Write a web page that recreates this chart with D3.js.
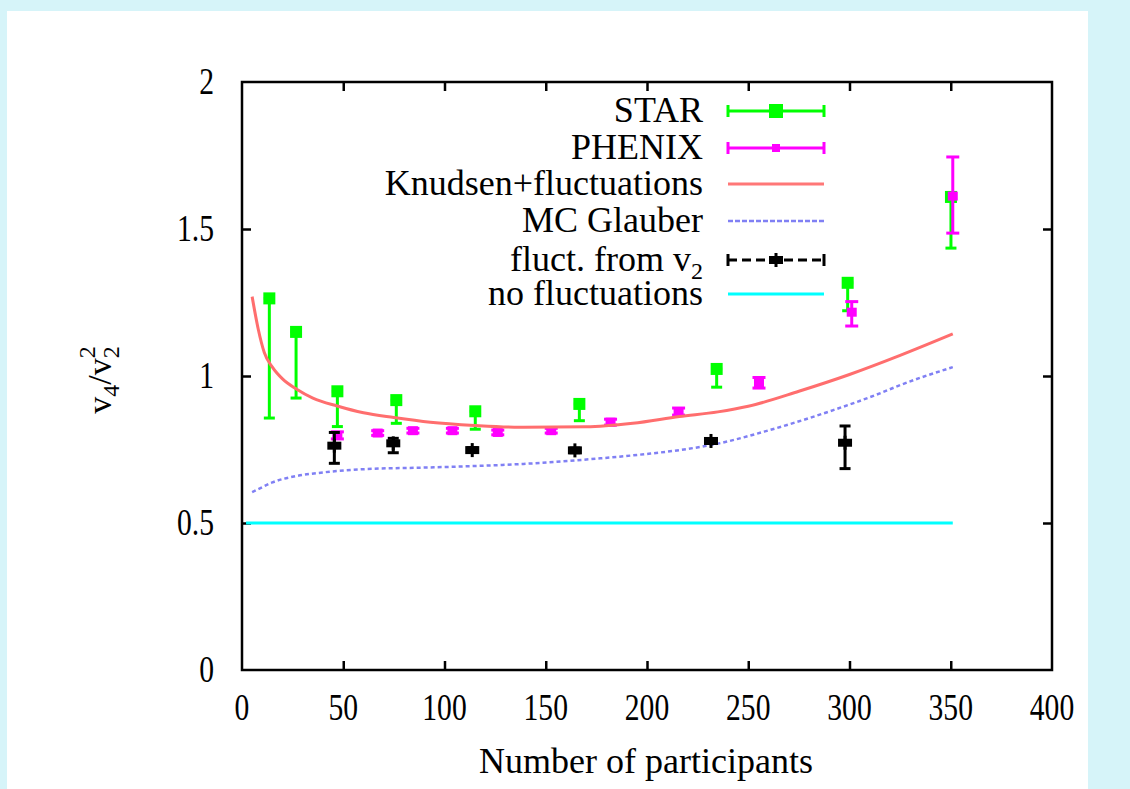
<!DOCTYPE html>
<html>
<head>
<meta charset="utf-8">
<script src="https://cdn.jsdelivr.net/npm/d3@7"></script>
<style>
  html, body { margin: 0; padding: 0; background: #d6f4f9; }
  svg { display: block; }
  text { font-family: "Liberation Serif", "Times New Roman", serif; fill: #000; }
</style>
</head>
<body>
<svg id="chart" width="1130" height="789"></svg>
<script>
// axis ticks
const xTicks = [0, 50, 100, 150, 200, 250, 300, 350, 400];
const yTicks = [0, 0.5, 1, 1.5, 2];
const yTickLabels = ["0", "0.5", "1", "1.5", "2"];

// STAR
const starX  = [13.5, 26.7, 47.1, 76.2, 115.2, 166.6, 234.4, 299.1, 350.1];
const starY  = [1.264, 1.150, 0.948, 0.918, 0.880, 0.905, 1.024, 1.317, 1.609];
const starLo = [0.857, 0.925, 0.828, 0.839, 0.819, 0.848, 0.962, 1.222, 1.435];

// PHENIX
const phenixX  = [47.1, 67.0, 84.4, 103.9, 126.3, 152.7, 182.0, 215.6, 255.3, 301.1, 351.0];
const phenixY  = [0.798, 0.806, 0.814, 0.814, 0.808, 0.814, 0.843, 0.879, 0.977, 1.217, 1.612];
const phenixLo = [0.786, 0.798, 0.806, 0.806, 0.800, 0.806, 0.833, 0.867, 0.959, 1.170, 1.486];
const phenixHi = [0.810, 0.814, 0.822, 0.822, 0.816, 0.822, 0.853, 0.891, 0.995, 1.253, 1.745];

// Knudsen + fluctuations
const knudsenX = [5, 8, 11, 15, 20, 27, 35, 47, 60, 75, 93, 115, 137, 170, 193, 216, 235, 250, 275, 300, 325, 351];
const knudsenY = [1.27, 1.16, 1.08, 1.03, 0.99, 0.955, 0.925, 0.898, 0.875, 0.859, 0.843, 0.832, 0.826, 0.827, 0.839, 0.862, 0.878, 0.897, 0.948, 1.005, 1.07, 1.143];

// MC Glauber
const glauberX = [5, 10, 15, 27, 40, 60, 93, 127, 139, 177, 200, 216, 235, 260, 292, 315, 325, 351];
const glauberY = [0.605, 0.622, 0.638, 0.66, 0.672, 0.683, 0.689, 0.697, 0.701, 0.72, 0.735, 0.748, 0.77, 0.815, 0.884, 0.941, 0.969, 1.03];

// fluct. from v2
const fluctX  = [45.6, 74.7, 113.7, 164.4, 231.6, 297.8];
const fluctY  = [0.763, 0.771, 0.748, 0.747, 0.779, 0.773];
const fluctLo = [0.703, 0.739, 0.740, 0.739, 0.771, 0.685];
const fluctHi = [0.808, 0.788, 0.756, 0.755, 0.787, 0.830];

// no fluctuations
const noFlX = [2, 351];
const noFlY = [0.5, 0.5];

const legendLabels = ["STAR", "PHENIX", "Knudsen+fluctuations", "MC Glauber", "fluct. from v2", "no fluctuations"];

const svg = d3.select("#chart");
const pLeft = 242, pRight = 1052, pTop = 82, pBottom = 670;

svg.append("rect").attr("x", 7).attr("y", 11).attr("width", 1081).attr("height", 778).attr("fill", "#fff");

const x = d3.scaleLinear().domain([0, 400]).range([pLeft, pRight]);
const y = d3.scaleLinear().domain([0, 2]).range([pBottom, pTop]);

// inward ticks on all four sides
const innerX = xTicks.slice(1, -1);
const innerY = yTicks.slice(1, -1);
function tickStyle(g) {
  g.select(".domain").remove();
  g.selectAll("line").attr("stroke", "#000").attr("stroke-width", 2.5);
  g.selectAll("text").remove();
}
svg.append("g").attr("transform", "translate(0," + pBottom + ")")
  .call(d3.axisBottom(x).tickValues(innerX).tickSize(-9)).call(tickStyle);
svg.append("g").attr("transform", "translate(0," + pTop + ")")
  .call(d3.axisTop(x).tickValues(innerX).tickSize(-9)).call(tickStyle);
svg.append("g").attr("transform", "translate(" + pLeft + ",0)")
  .call(d3.axisLeft(y).tickValues(innerY).tickSize(-9)).call(tickStyle);
svg.append("g").attr("transform", "translate(" + pRight + ",0)")
  .call(d3.axisRight(y).tickValues(innerY).tickSize(-9)).call(tickStyle);

// tick labels (narrow digits)
svg.selectAll(".xl").data(xTicks).enter().append("text")
  .attr("transform", d => "translate(" + x(d) + ",720) scale(0.8,1)")
  .attr("text-anchor", "middle").attr("font-size", 37).text(d => d);
svg.selectAll(".yl").data(yTicks).enter().append("text")
  .attr("transform", d => "translate(214," + (y(d) + 12) + ") scale(0.8,1)")
  .attr("text-anchor", "end").attr("font-size", 37).text((d, i) => yTickLabels[i]);

// axis titles
svg.append("text").attr("x", 646).attr("y", 773).attr("text-anchor", "middle")
  .attr("font-size", 36).text("Number of participants");

const yt = svg.append("text").attr("transform", "translate(111,380) rotate(-90)")
  .attr("text-anchor", "middle").attr("font-size", 34);
yt.append("tspan").text("v");
yt.append("tspan").attr("dy", 8).attr("font-size", 24).text("4");
yt.append("tspan").attr("dy", -8).text("/v");
yt.append("tspan").attr("dy", 8).attr("font-size", 24).text("2");
yt.append("tspan").attr("dx", -12).attr("dy", -24).attr("font-size", 24).text("2");

const line = d3.line().x(d => x(d[0])).y(d => y(d[1]));

function errBars(xs, lo, hi, color, cap) {
  const g = svg.append("g").attr("stroke", color).attr("stroke-width", 3);
  xs.forEach((v, i) => {
    g.append("line").attr("x1", x(v)).attr("x2", x(v)).attr("y1", y(lo[i])).attr("y2", y(hi[i]));
    g.append("line").attr("x1", x(v) - cap / 2).attr("x2", x(v) + cap / 2).attr("y1", y(lo[i])).attr("y2", y(lo[i]));
    g.append("line").attr("x1", x(v) - cap / 2).attr("x2", x(v) + cap / 2).attr("y1", y(hi[i])).attr("y2", y(hi[i]));
  });
}

// STAR
errBars(starX, starLo, starY, "#00ff00", 11);
svg.selectAll(".star").data(starX).enter().append("rect")
  .attr("x", d => x(d) - 6).attr("y", (d, i) => y(starY[i]) - 6)
  .attr("width", 12).attr("height", 12).attr("fill", "#00ff00");

// PHENIX
errBars(phenixX, phenixLo, phenixHi, "#ff00ff", 13);
svg.selectAll(".phx").data(phenixX).enter().append("rect")
  .attr("x", d => x(d) - 5).attr("y", (d, i) => y(phenixY[i]) - 4.5)
  .attr("width", 10).attr("height", 9).attr("fill", "#ff00ff");

// model curves
svg.append("path").datum(d3.zip(knudsenX, knudsenY))
  .attr("d", line.curve(d3.curveMonotoneX)).attr("fill", "none")
  .attr("stroke", "#ff6e6e").attr("stroke-width", 3);
svg.append("path").datum(d3.zip(glauberX, glauberY))
  .attr("d", line.curve(d3.curveMonotoneX)).attr("fill", "none")
  .attr("stroke", "#8080f4").attr("stroke-width", 2.5).attr("stroke-dasharray", "4,3");

// fluct. from v2
errBars(fluctX, fluctLo, fluctHi, "#000", 11);
function plusMark(g, cx, cy) {
  g.append("rect").attr("x", cx - 7).attr("y", cy - 4).attr("width", 14).attr("height", 8).attr("fill", "#000");
  g.append("rect").attr("x", cx - 1.5).attr("y", cy - 7).attr("width", 3).attr("height", 14).attr("fill", "#000");
}
const fg = svg.append("g");
fluctX.forEach((v, i) => plusMark(fg, x(v), y(fluctY[i])));

// no fluctuations
svg.append("path").datum(d3.zip(noFlX, noFlY))
  .attr("d", line.curve(d3.curveLinear)).attr("fill", "none")
  .attr("stroke", "#00ffff").attr("stroke-width", 3);

// frame
svg.append("rect").attr("x", pLeft).attr("y", pTop).attr("width", pRight - pLeft).attr("height", pBottom - pTop)
  .attr("fill", "none").attr("stroke", "#000").attr("stroke-width", 2.5);

// legend
const rowY = [111, 148, 184, 221, 260, 294];
const lx1 = 728, lx2 = 824, lxm = 776;
const lg = svg.append("g");
legendLabels.forEach((lab, i) => {
  const t = lg.append("text").attr("x", 703).attr("y", rowY[i] + 11)
    .attr("text-anchor", "end").attr("font-size", 36);
  if (i === 4) {
    t.append("tspan").text("fluct. from v");
    t.append("tspan").attr("dy", 8).attr("font-size", 24).text("2");
  } else {
    t.text(lab);
  }
});
function legendErr(yy, color, dash) {
  lg.append("line").attr("x1", lx1).attr("x2", lx2).attr("y1", yy).attr("y2", yy)
    .attr("stroke", color).attr("stroke-width", 3).attr("stroke-dasharray", dash || null);
  [lx1, lx2].forEach(xx => lg.append("line").attr("x1", xx).attr("x2", xx)
    .attr("y1", yy - 6).attr("y2", yy + 6).attr("stroke", color).attr("stroke-width", 3));
}
legendErr(rowY[0], "#00ff00");
lg.append("rect").attr("x", lxm - 7).attr("y", rowY[0] - 7).attr("width", 14).attr("height", 14).attr("fill", "#00ff00");
legendErr(rowY[1], "#ff00ff");
lg.append("rect").attr("x", lxm - 4).attr("y", rowY[1] - 4).attr("width", 8).attr("height", 8).attr("fill", "#ff00ff");
lg.append("line").attr("x1", lx1).attr("x2", lx2).attr("y1", rowY[2]).attr("y2", rowY[2])
  .attr("stroke", "#ff7777").attr("stroke-width", 3);
lg.append("line").attr("x1", lx1).attr("x2", lx2).attr("y1", rowY[3]).attr("y2", rowY[3])
  .attr("stroke", "#8080f4").attr("stroke-width", 2.5).attr("stroke-dasharray", "5,2");
legendErr(rowY[4], "#000", "9,5");
plusMark(lg, lxm, rowY[4]);
lg.append("line").attr("x1", lx1).attr("x2", lx2).attr("y1", rowY[5]).attr("y2", rowY[5])
  .attr("stroke", "#00ffff").attr("stroke-width", 3);
</script>
</body>
</html>
